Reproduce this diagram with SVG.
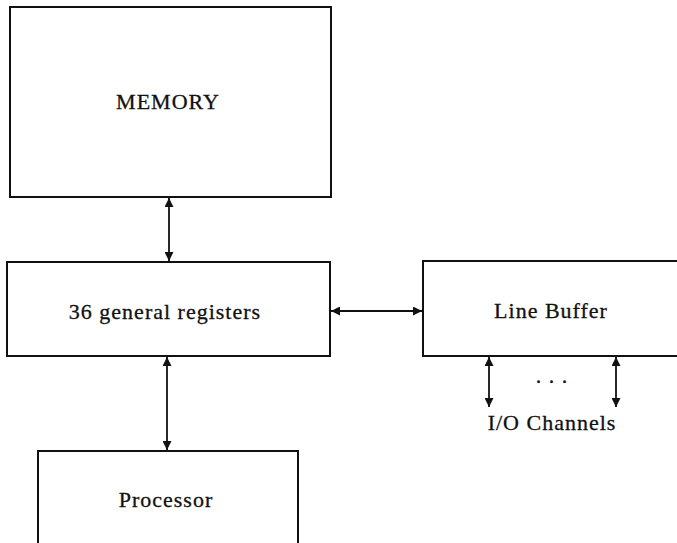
<svg xmlns="http://www.w3.org/2000/svg" width="677" height="543" viewBox="0 0 677 543">
<defs>
<style>
.box{fill:none;stroke:#111;stroke-width:2}
.lbl{font-family:"Liberation Serif","DejaVu Serif",serif;font-size:22px;letter-spacing:1px;fill:#111;stroke:#111;stroke-width:0.3;text-anchor:middle}
.con{stroke:#111;stroke-width:1.8;fill:none;marker-start:url(#ah);marker-end:url(#ah)}
</style>
<marker id="ah" viewBox="0 0 10 10" refX="10" refY="5" markerWidth="9" markerHeight="9" markerUnits="userSpaceOnUse" orient="auto-start-reverse">
<path d="M0,0 L10,5 L0,10 z" fill="#111"/>
</marker>
</defs>
<rect width="677" height="543" fill="#fff"/>
<g id="memory">
<rect class="box" x="10" y="7" width="321" height="190"/>
<text class="lbl" x="168" y="109">MEMORY</text>
</g>
<g id="registers">
<rect class="box" x="7" y="262" width="323" height="94"/>
<text class="lbl" x="165" y="319">36 general registers</text>
</g>
<g id="processor">
<rect class="box" x="38" y="451" width="260" height="110"/>
<text class="lbl" x="166" y="507">Processor</text>
</g>
<g id="linebuffer">
<rect class="box" x="423" y="261" width="270" height="95"/>
<text class="lbl" x="551" y="318">Line Buffer</text>
</g>
<g id="io">
<text class="lbl" x="552" y="383">. . .</text>
<text class="lbl" x="552" y="430">I/O Channels</text>
</g>
<g id="connectors">
<line class="con" x1="169" y1="198" x2="169" y2="261"/>
<line class="con" x1="167" y1="357" x2="167" y2="450"/>
<line class="con" x1="331" y1="311" x2="422" y2="311"/>
<line class="con" x1="489" y1="357" x2="489" y2="407"/>
<line class="con" x1="616" y1="357" x2="616" y2="407"/>
</g>
</svg>
